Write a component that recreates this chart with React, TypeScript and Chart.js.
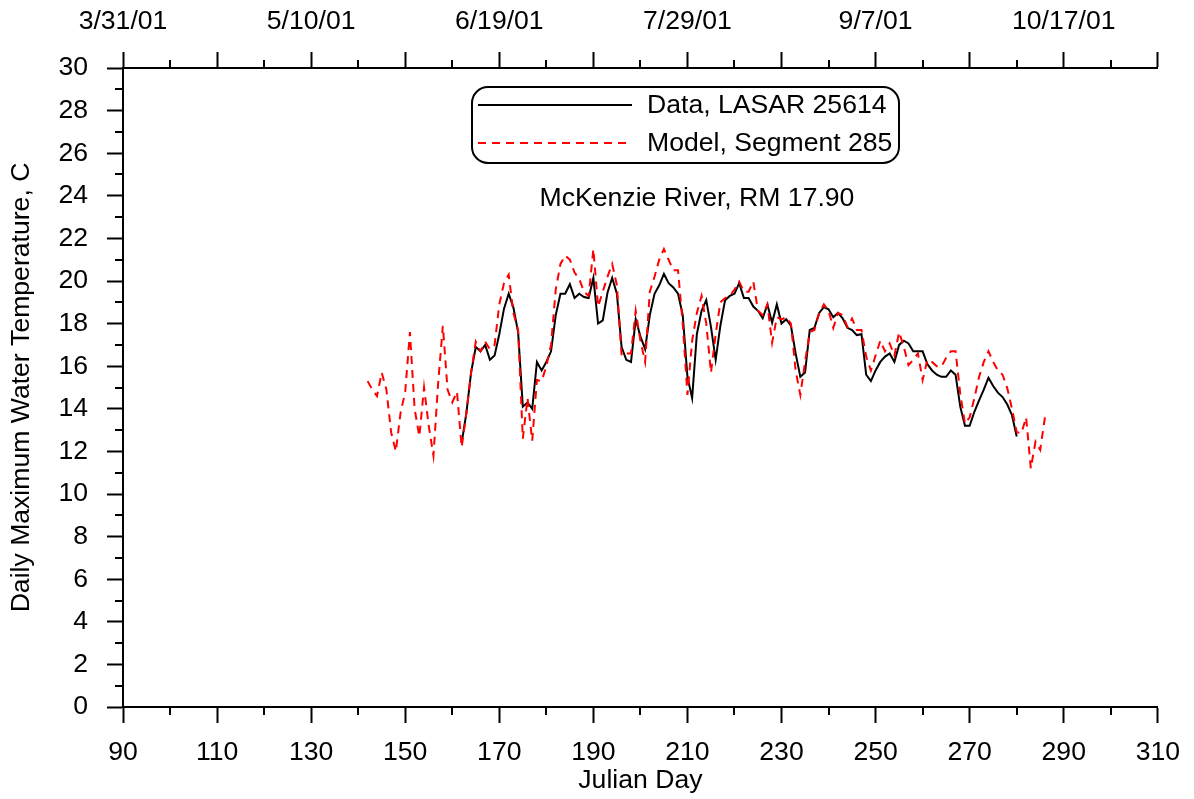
import React, { useEffect, useRef } from 'react';
import { Chart, registerables } from 'chart.js';

Chart.register(...registerables);

// ---- Data (daily maximum water temperature, C) ----
const dataStartDay = 162;
const dataTemps = [
  12.4, 13.8, 15.7, 16.9, 16.7, 17.0, 16.3, 16.5, 17.5, 18.7,
  19.4, 18.75, 17.6, 14.1, 14.3, 14.0, 16.2, 15.8, 16.2, 16.7,
  18.4, 19.4, 19.4, 19.85, 19.2, 19.4, 19.25, 19.2, 20.15, 18.0,
  18.15, 19.45, 20.15, 19.4, 16.9, 16.3, 16.2, 18.2, 17.4, 16.8,
  18.4, 19.4, 19.8, 20.33, 19.9, 19.7, 19.4, 18.4, 15.5, 14.5,
  17.5, 18.6, 19.1, 17.85, 16.3, 17.9, 19.1, 19.3, 19.4, 19.9,
  19.2, 19.2, 18.8, 18.6, 18.25, 18.9, 18.04, 18.9, 18.0, 18.2,
  17.9, 16.6, 15.5, 15.7, 17.7, 17.8, 18.5, 18.77, 18.67, 18.3,
  18.5, 18.25, 17.8, 17.7, 17.46, 17.5, 15.6, 15.3, 15.8, 16.2,
  16.45, 16.6, 16.2, 17.0, 17.2, 17.07, 16.7, 16.7, 16.7, 16.1,
  15.8, 15.6, 15.5, 15.5, 15.8, 15.6, 14.1, 13.2, 13.2, 13.86,
  14.4, 14.9, 15.46, 15.07, 14.76, 14.55, 14.2, 13.7, 12.7,
];

const modelStartDay = 142;
const modelTemps = [
  15.3, 14.9, 14.6, 15.7, 14.9, 12.9, 12.0, 13.8, 14.8, 17.6,
  14.0, 12.7, 15.0, 13.2, 11.8, 15.2, 17.9, 14.9, 14.3, 14.8,
  12.2, 13.8, 15.7, 17.15, 16.7, 17.15, 16.8, 17.0, 18.9, 19.9,
  20.3, 18.5, 17.7, 12.6, 14.5, 12.5, 15.35, 15.3, 16.0, 17.0,
  19.6, 20.8, 21.2, 21.0, 20.4, 20.1, 19.5, 19.3, 21.5, 18.8,
  19.5, 20.2, 20.8, 19.8, 16.5, 16.6, 16.6, 18.6, 17.2, 16.2,
  19.5, 20.2, 21.0, 21.5, 21.0, 20.5, 20.5, 18.0, 14.65, 17.2,
  18.5, 19.3, 18.0, 15.7, 17.5, 19.0, 19.2, 19.3, 19.6, 19.97,
  19.5, 19.5, 19.97, 18.6, 18.4, 18.9, 17.1, 18.3, 18.2, 18.3,
  18.0, 15.8, 14.65, 16.2, 17.6, 17.7, 18.5, 18.9, 18.6, 17.8,
  18.5, 18.4, 17.85, 18.24, 17.7, 17.7, 16.45, 15.8, 16.5, 17.2,
  16.7, 17.07, 16.5, 17.6, 16.9, 16.05, 16.3, 16.6, 15.35, 16.3,
  16.2, 16.0, 15.98, 16.4, 16.7, 16.7, 14.7, 13.3, 13.6, 14.5,
  15.5, 16.2, 16.7, 16.2, 15.8, 15.6, 14.96, 14.0, 12.9, 12.85,
  13.6, 11.2, 12.46, 12.07, 13.6,
];

// ---- Axes ----
const xMin = 90;
const xMax = 310;
const bottomTicks = [90, 110, 130, 150, 170, 190, 210, 230, 250, 270, 290, 310];
const minorXTicks = [100, 120, 140, 160, 180, 200, 220, 240, 260, 280, 300];
const topTickDays = [90, 130, 170, 210, 250, 290];
const topTickLabels = ['3/31/01', '5/10/01', '6/19/01', '7/29/01', '9/7/01', '10/17/01'];
const yMin = 0;
const yMax = 30;
const minorYTicks = [1, 3, 5, 7, 9, 11, 13, 15, 17, 19, 21, 23, 25, 27, 29];

const seriesNames = ['Data, LASAR 25614', 'Model, Segment 285'];
const subtitle = 'McKenzie River, RM 17.90';
const xTitle = 'Julian Day';
const yTitle = 'Daily Maximum Water Temperature, C';

const FONT = "'Liberation Sans', Arial, sans-serif";
const FS = 26.6;

const W = 1194;
const H = 799;

const overlayPlugin = {
  id: 'overlay',
  afterDraw(chart: any) {
    const ctx = chart.ctx as CanvasRenderingContext2D;
    const { left, top, bottom } = chart.chartArea;
    const xs = chart.scales.x;
    const ys = chart.scales.y;
    ctx.save();
    ctx.strokeStyle = '#000';
    ctx.lineWidth = 2;
    ctx.beginPath();
    for (const v of minorXTicks) {
      const px = Math.round(xs.getPixelForValue(v));
      ctx.moveTo(px, bottom);
      ctx.lineTo(px, bottom + 8);
      ctx.moveTo(px, top);
      ctx.lineTo(px, top - 8);
    }
    for (const v of minorYTicks) {
      const py = Math.round(ys.getPixelForValue(v));
      ctx.moveTo(left - 8, py);
      ctx.lineTo(left, py);
    }
    ctx.stroke();

    // legend box
    const bx = 472, by = 87, bw = 427, bh = 76, r = 16;
    ctx.beginPath();
    ctx.moveTo(bx + r, by);
    ctx.lineTo(bx + bw - r, by);
    ctx.arcTo(bx + bw, by, bx + bw, by + r, r);
    ctx.lineTo(bx + bw, by + bh - r);
    ctx.arcTo(bx + bw, by + bh, bx + bw - r, by + bh, r);
    ctx.lineTo(bx + r, by + bh);
    ctx.arcTo(bx, by + bh, bx, by + bh - r, r);
    ctx.lineTo(bx, by + r);
    ctx.arcTo(bx, by, bx + r, by, r);
    ctx.closePath();
    ctx.fillStyle = '#fff';
    ctx.fill();
    ctx.lineWidth = 2;
    ctx.strokeStyle = '#000';
    ctx.stroke();

    const ds = chart.data.datasets;
    const rows = [
      { y: 105, color: ds[0].borderColor, dash: [] as number[], text: seriesNames[0] },
      { y: 143, color: ds[1].borderColor, dash: ds[1].borderDash as number[], text: seriesNames[1] },
    ];
    for (const row of rows) {
      ctx.beginPath();
      ctx.setLineDash(row.dash);
      ctx.strokeStyle = row.color;
      ctx.lineWidth = 2;
      ctx.moveTo(478, row.y);
      ctx.lineTo(632, row.y);
      ctx.stroke();
      ctx.setLineDash([]);
      ctx.fillStyle = '#000';
      ctx.font = `${FS}px ${FONT}`;
      ctx.textAlign = 'left';
      ctx.textBaseline = 'middle';
      ctx.fillText(row.text, 647, row.y + 1);
    }

    ctx.textAlign = 'center';
    ctx.fillText(subtitle, 697, 199);
    ctx.restore();
  },
};

export default function App() {
  const ref = useRef<HTMLCanvasElement | null>(null);

  useEffect(() => {
    if (!ref.current) return;
    const dataPts = dataTemps.map((t, i) => ({ x: dataStartDay + i, y: t }));
    const modelPts = modelTemps.map((t, i) => ({ x: modelStartDay + i, y: t }));
    const tickFont = { family: FONT, size: FS };
    const gridCommon = {
      display: true,
      drawOnChartArea: false,
      drawTicks: true,
      tickLength: 16,
      tickWidth: 2,
      tickColor: '#000',
      color: '#000',
    };
    const chart = new Chart(ref.current, {
      type: 'line',
      data: {
        datasets: [
          {
            label: seriesNames[0],
            data: dataPts,
            borderColor: '#000000',
            borderWidth: 2,
            pointRadius: 0,
            tension: 0,
            fill: false,
            order: 1,
          },
          {
            label: seriesNames[1],
            data: modelPts,
            borderColor: '#ff0000',
            borderWidth: 2,
            borderDash: [8, 6],
            pointRadius: 0,
            tension: 0,
            fill: false,
            order: 0,
          },
        ],
      },
      plugins: [overlayPlugin],
      options: {
        responsive: false,
        animation: false,
        devicePixelRatio: 1,
        layout: { autoPadding: false, padding: { left: 0, right: 34, top: 0, bottom: 0 } },
        plugins: {
          legend: { display: false },
          tooltip: { enabled: false },
          title: { display: false },
        },
        scales: {
          x: {
            type: 'linear',
            position: 'bottom',
            min: xMin,
            max: xMax,
            afterBuildTicks: (s: any) => {
              s.ticks = bottomTicks.map((v) => ({ value: v }));
            },
            afterFit: (s: any) => {
              s.height = 92;
            },
            ticks: {
              font: tickFont,
              color: '#000',
              padding: 14,
              maxRotation: 0,
              autoSkip: false,
              callback: (v: any) => String(v),
            },
            grid: gridCommon,
            border: { display: true, color: '#000', width: 2 },
            title: {
              display: true,
              text: xTitle,
              font: tickFont,
              color: '#000',
              padding: { top: 0, bottom: 2 },
            },
          },
          x2: {
            type: 'linear',
            position: 'top',
            min: xMin,
            max: xMax,
            afterBuildTicks: (s: any) => {
              s.ticks = bottomTicks.map((v) => ({ value: v }));
            },
            afterFit: (s: any) => {
              s.height = 68;
            },
            ticks: {
              font: tickFont,
              color: '#000',
              padding: 14,
              maxRotation: 0,
              autoSkip: false,
              callback: (v: any) => {
                const i = topTickDays.indexOf(Number(v));
                return i >= 0 ? topTickLabels[i] : '';
              },
            },
            grid: gridCommon,
            border: { display: true, color: '#000', width: 2 },
          },
          y: {
            type: 'linear',
            position: 'left',
            min: yMin,
            max: yMax,
            afterFit: (s: any) => {
              s.width = 123;
            },
            ticks: {
              stepSize: 2,
              font: tickFont,
              color: '#000',
              padding: 19,
              autoSkip: false,
            },
            grid: { ...gridCommon, tickLength: 16 },
            border: { display: true, color: '#000', width: 2 },
            title: {
              display: true,
              text: yTitle,
              font: tickFont,
              color: '#000',
              padding: { top: 6, bottom: 0 },
            },
          },
        },
      },
    } as any);
    return () => chart.destroy();
  }, []);

  return (
    <div style={{ position: 'absolute', left: 0, top: 0, width: W, height: H, background: '#fff' }}>
      <canvas ref={ref} width={W} height={H} style={{ width: W, height: H, display: 'block' }} />
    </div>
  );
}
